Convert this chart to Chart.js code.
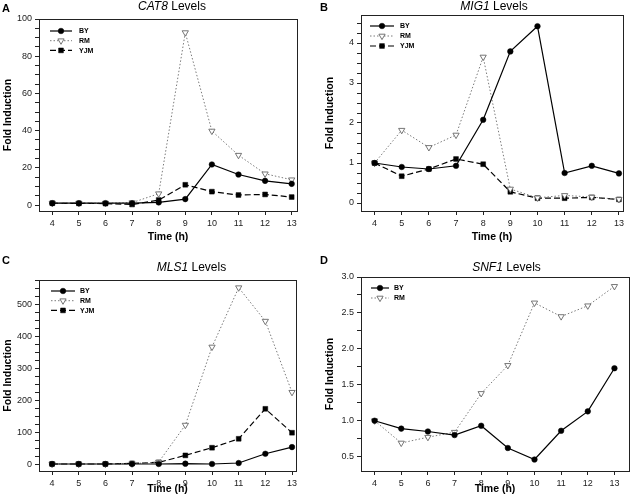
<!DOCTYPE html>
<html><head><meta charset="utf-8">
<script src="https://cdn.jsdelivr.net/npm/chart.js@4.4.1/dist/chart.umd.min.js"></script>
<style>
body{margin:0;background:#fff;width:634px;height:503px;position:relative;overflow:hidden;font-family:"Liberation Sans",Arial,sans-serif;color:#000;}
.panel{position:absolute;}
.panel canvas{position:absolute;left:0;top:0;}
.letter{position:absolute;font-weight:bold;font-size:11px;line-height:1;}
.title{position:absolute;font-size:12px;line-height:1;transform:translate(-50%,-50%);white-space:nowrap;}
</style></head><body>
<div class="panel" style="left:0;top:0;width:317px;height:250px"><canvas id="cA" width="317" height="250"></canvas></div>
<div class="panel" style="left:317px;top:0;width:317px;height:250px"><canvas id="cB" width="317" height="250"></canvas></div>
<div class="panel" style="left:0;top:250px;width:317px;height:253px"><canvas id="cC" width="317" height="253"></canvas></div>
<div class="panel" style="left:317px;top:250px;width:317px;height:253px"><canvas id="cD" width="317" height="253"></canvas></div>
<div class="letter" style="left:2px;top:2.6px">A</div>
<div class="letter" style="left:320px;top:1.6px">B</div>
<div class="letter" style="left:2px;top:254.5px">C</div>
<div class="letter" style="left:320px;top:255px">D</div>
<div class="title" style="left:172px;top:6px"><i>CAT8</i> Levels</div>
<div class="title" style="left:494px;top:6px"><i>MIG1</i> Levels</div>
<div class="title" style="left:191.5px;top:266.5px"><i>MLS1</i> Levels</div>
<div class="title" style="left:506.5px;top:266.5px"><i>SNF1</i> Levels</div>
<script>
// ---- data ----
const hours = [4, 5, 6, 7, 8, 9, 10, 11, 12, 13];
const timeTicks = [4, 5, 6, 7, 8, 9, 10, 11, 12, 13];

const cat8BY  = [1.0, 1.0, 1.0, 1.0, 1.4, 3.2, 21.8, 16.4, 13.0, 11.4];
const cat8RM  = [1.0, 1.0, 1.0, 1.3, 6.1, 92.7, 39.8, 26.8, 16.8, 13.6];
const cat8YJM = [1.0, 0.9, 0.8, 0.3, 2.7, 10.9, 7.2, 5.4, 5.7, 4.3];
const cat8Ticks = [0, 20, 40, 60, 80, 100];

const mig1BY  = [1.00, 0.90, 0.85, 0.93, 2.08, 3.79, 4.42, 0.75, 0.93, 0.74];
const mig1RM  = [1.00, 1.82, 1.39, 1.70, 3.65, 0.35, 0.13, 0.19, 0.15, 0.09];
const mig1YJM = [1.00, 0.67, 0.85, 1.10, 0.97, 0.28, 0.12, 0.12, 0.14, 0.09];
const mig1Ticks = [0, 1, 2, 3, 4];

const mls1BY  = [1, 1, 1, 1, 1, 2, 1, 4, 33, 54];
const mls1RM  = [1, 1, 1, 2, 7, 123, 368, 554, 449, 226];
const mls1YJM = [1, 1, 1, 3, 6, 28, 52, 80, 174, 99];
const mls1Ticks = [0, 100, 200, 300, 400, 500];

const snf1BY = [1.00, 0.89, 0.85, 0.80, 0.93, 0.62, 0.46, 0.86, 1.13, 1.73];
const snf1RM = [1.00, 0.69, 0.77, 0.84, 1.38, 1.77, 2.64, 2.45, 2.60, 2.87];
const snf1Ticks = [0.5, 1.0, 1.5, 2.0, 2.5, 3.0];

// ---- styles ----
Chart.defaults.font.family = '"Liberation Sans", Arial, sans-serif';
const FAMILY = '"Liberation Sans", Arial, sans-serif';
const AXIS = '#222';
const styles = {
  BY:  {borderColor:'#000', borderWidth:1.2, pointStyle:'circle', pointRadius:2.8, pointBackgroundColor:'#000', pointBorderColor:'#000', pointBorderWidth:0.5, pointRotation:0},
  RM:  {borderColor:'#7a7a7a', borderWidth:1, borderDash:[1.5,2], pointStyle:'triangle', pointRotation:180, pointRadius:3.6, pointBackgroundColor:'#fff', pointBorderColor:'#666', pointBorderWidth:0.9},
  YJM: {borderColor:'#000', borderWidth:1.2, borderDash:[6,3], pointStyle:'rect', pointRadius:3.4, pointBackgroundColor:'#000', pointBorderColor:'#000', pointBorderWidth:0.5, pointRotation:0}
};

function mkDataset(name, values){
  return Object.assign({label:name, data: hours.map((h,i)=>({x:h, y:values[i]})), tension:0, fill:false, clip:false}, styles[name]);
}

function drawMarker(ctx, ds, x, y){
  const r = ds.pointRadius;
  ctx.save();
  ctx.fillStyle = ds.pointBackgroundColor; ctx.strokeStyle = ds.pointBorderColor; ctx.lineWidth = ds.pointBorderWidth;
  ctx.setLineDash([]);
  ctx.beginPath();
  if (ds.pointStyle === 'circle') { ctx.arc(x, y, r, 0, Math.PI*2); }
  else if (ds.pointStyle === 'rect') { const s = Math.SQRT1_2*r; ctx.rect(x-s, y-s, 2*s, 2*s); }
  else if (ds.pointStyle === 'triangle') {
    const rot = (ds.pointRotation||0)*Math.PI/180;
    for (let k=0;k<3;k++){ const a = rot - Math.PI/2 + k*2*Math.PI/3; const px = x + Math.cos(a)*r, py = y + Math.sin(a)*r; k?ctx.lineTo(px,py):ctx.moveTo(px,py); }
    ctx.closePath();
  }
  ctx.fill(); if (ctx.lineWidth>0) ctx.stroke();
  ctx.restore();
}

function makeLegend(o){
  return {
    id:'inlegend',
    afterDraw(chart){
      const ctx = chart.ctx, a = chart.chartArea;
      chart.data.datasets.forEach((ds, i) => {
        const y = a.top + o.top + i*o.gap;
        const x0 = a.left + o.left, x1 = x0 + o.len;
        ctx.save();
        ctx.strokeStyle = ds.borderColor; ctx.lineWidth = ds.borderWidth; ctx.setLineDash(ds.borderDash || []);
        ctx.beginPath(); ctx.moveTo(x0, y); ctx.lineTo(x1, y); ctx.stroke();
        ctx.restore();
        drawMarker(ctx, ds, (x0+x1)/2, y);
        ctx.save();
        ctx.fillStyle = '#000'; ctx.font = 'bold 7px ' + FAMILY; ctx.textBaseline = 'middle'; ctx.textAlign = 'left';
        ctx.fillText(ds.label, x1 + o.textGap, y + 0.5);
        ctx.restore();
      });
    }
  };
}

// y ticks: labelled majors from the tick arrays plus unlabelled minor marks
function yTickList(majors, minorStep, min, max){
  const out = [];
  const n0 = Math.ceil(min/minorStep - 1e-9), n1 = Math.floor(max/minorStep + 1e-9);
  for (let n = n0; n <= n1; n++){
    const v = +(n*minorStep).toFixed(6);
    const isMajor = majors.some(m => Math.abs(m - v) < minorStep/10);
    out.push({value: v, major: isMajor});
  }
  return out;
}

const frameAxis = (pos, g) => ({
  type:'linear', position:pos, display:true,
  min: pos === 'top' ? g.xmin : g.ymin, max: pos === 'top' ? g.xmax : g.ymax,
  ticks:{display:false}, grid:{display:false, drawTicks:false},
  border:{display:true, color:AXIS, width:1},
  afterFit:(s)=>{ if (pos === 'top') s.height = 0; else s.width = 0; }
});

function makeChart(id, g, datasets, yTicks, yFmt, minorStep, leg){
  return new Chart(document.getElementById(id), {
    type:'line',
    data:{datasets},
    plugins:[makeLegend(leg)],
    options:{
      responsive:false, animation:false, events:[],
      layout:{padding:{left:0, top:g.T, right:g.W - g.R, bottom:0}},
      plugins:{legend:{display:false}, tooltip:{enabled:false}, title:{display:false}},
      scales:{
        x:{type:'linear', position:'bottom', min:g.xmin, max:g.xmax,
           afterBuildTicks:(s)=>{ s.ticks = timeTicks.map(v=>({value:v})); },
           afterFit:(s)=>{ s.height = g.H - g.B; },
           border:{display:true, color:AXIS, width:1},
           grid:{drawOnChartArea:false, drawTicks:true, tickLength:4, color:AXIS, tickColor:AXIS, tickWidth:1},
           ticks:{autoSkip:false, maxRotation:0, padding:3, color:'#222', font:{size:9}, callback:(v)=>String(v)},
           title:{display:true, text:'Time (h)', color:'#000', font:{size:10.5, weight:'bold'}, padding:{top:0, bottom:g.xtp}}
        },
        y:{type:'linear', position:'left', min:g.ymin, max:g.ymax,
           afterBuildTicks:(s)=>{ s.ticks = yTickList(yTicks, minorStep, g.ymin, g.ymax); },
           afterFit:(s)=>{ s.width = g.L; },
           border:{display:true, color:AXIS, width:1},
           grid:{drawOnChartArea:false, drawTicks:true, tickLength:4, color:AXIS, tickColor:AXIS, tickWidth:1},
           ticks:{autoSkip:false, padding:3, color:'#222', font:{size:9},
                  callback:(v, i, ticks)=> ticks[i].major ? yFmt(v) : ''},
           title:{display:true, text:'Fold Induction', color:'#000', font:{size:10.5, weight:'bold'}, padding:{top:g.ytp, bottom:0}}
        },
        xTop: frameAxis('top', g),
        yRight: frameAxis('right', g)
      }
    }
  });
}

const intFmt = (v)=>String(v);
const oneDec = (v)=>Number(v).toFixed(1);

makeChart('cA', {W:317,H:250,L:39,R:297,T:19,B:211,xmin:3.5,xmax:13.2,ymin:-3.2,ymax:100,xtp:6.7,ytp:1.7},
  [mkDataset('BY',cat8BY), mkDataset('RM',cat8RM), mkDataset('YJM',cat8YJM)], cat8Ticks, intFmt, 5,
  {left:11, top:12, gap:9.7, len:22, textGap:7});
makeChart('cB', {W:317,H:250,L:44,R:306,T:15,B:211,xmin:3.5,xmax:13.15,ymin:-0.2,ymax:4.7,xtp:6.2,ytp:6.7},
  [mkDataset('BY',mig1BY), mkDataset('RM',mig1RM), mkDataset('YJM',mig1YJM)], mig1Ticks, intFmt, 0.25,
  {left:9, top:11, gap:10, len:24, textGap:6});
makeChart('cC', {W:317,H:253,L:39,R:296,T:30,B:221,xmin:3.51,xmax:13.15,ymin:-21,ymax:578,xtp:7.7,ytp:1.7},
  [mkDataset('BY',mls1BY), mkDataset('RM',mls1RM), mkDataset('YJM',mls1YJM)], mls1Ticks, intFmt, 25,
  {left:12, top:11, gap:9.7, len:24, textGap:5});
makeChart('cD', {W:317,H:253,L:44,R:314,T:27,B:221,xmin:3.49,xmax:13.55,ymin:0.3,ymax:3.0,xtp:7.7,ytp:6.7},
  [mkDataset('BY',snf1BY), mkDataset('RM',snf1RM)], snf1Ticks, oneDec, 0.25,
  {left:10, top:11, gap:10, len:18, textGap:5});
</script>
</body></html>
